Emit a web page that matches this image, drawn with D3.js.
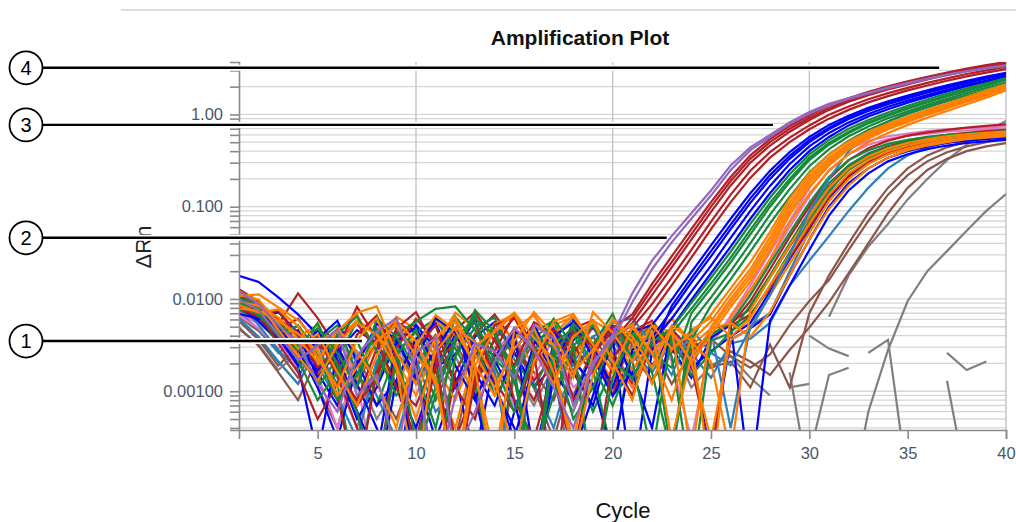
<!DOCTYPE html>
<meta charset="utf-8">
<style>
body { margin: 0; background: #fff; }
svg { font-family: "Liberation Sans", Arial, sans-serif; }
.grid line { stroke: #d6d6d6; stroke-width: 1.3; }
.vgrid line { stroke: #c4c4c4; stroke-width: 1.4; }
.axis path, .axis line { stroke: #8a8a8a; stroke-width: 1.6; }
.axis text { fill: #4a586b; font-size: 16.5px; font-family: "Liberation Sans", Arial, sans-serif; }
.well { fill: none; stroke-width: 2.2; }
</style>
<body>
<svg width="1016" height="522"></svg>
<script src="https://cdn.jsdelivr.net/npm/d3@7"></script>
<script>

// cycle numbers and axis ticks
var cycles = [1,2,3,4,5,6,7,8,9,10,11,12,13,14,15,16,17,18,19,20,21,22,23,24,25,26,27,28,29,30,31,32,33,34,35,36,37,38,39,40];
var xTicks = [5,10,15,20,25,30,35,40];
var xGrid = [10,20,30,40];
var yLabels = [0.001, 0.01, 0.1, 1];

// callouts on the left (number, ΔRn level, cycle where the line ends)
var calloutNumbers = ["1","2","3","4"];
var calloutLevels = [0.0035, 0.046, 0.77, 3.2];
var calloutEnds = [7.25, 22.75, 28.15, 36.6];

// ΔRn per well, cycles 1..40 (null = negative, not drawn on log axis)
var grayWells = [
  [.0058,.0036,.0021,.0012,.0029,.0041,.0016,.0005,.0011,.0034,.0062,.0024,.0009,.0018,.0044,.0027,.0013,.0006,.0021,.0038,.0015,.0026,.0033,.0011,.0019,.0024,.0014,.0009,null,null,null,.00005,.0006,.0028,.0095,.02,.033,.055,.09,.137],
  [.0047,.0032,.0017,.0026,.0041,.0014,.0004,.0021,.0036,.0054,.0023,.0011,.0028,.0045,.0016,.0007,.0019,.0039,.0051,.0026,.0013,.0034,.0022,.0017,.0029,null,null,null,null,null,.0064,.018,.037,.065,.12,.2,.32,.47,.65,.85],
  [null,null,null,null,null,.0034,.0021,.0043,.0026,.0012,null,null,null,null,null,null,.0038,.0062,.0029,null,null,null,null,null,null,null,null,null,.0016,.0001,null,null,.0026,.0036,.0001,null,.0026,.0017,.0021,null],
  [null,null,null,null,null,null,null,null,null,null,null,null,null,.0031,.0018,.0042,null,null,null,null,null,.0027,.0044,.0015,null,null,null,null,.0011,.0012,null,null,null,null,null,null,.0013,.0001,null,null],
  [null,null,null,null,null,null,null,.0021,.0034,.0012,.0027,null,null,null,null,null,null,null,null,null,null,null,null,null,null,null,null,null,null,.004,.0029,.0024,null,null,null,null,null,null,null,null],
  [null,null,null,null,null,null,null,null,null,null,null,null,null,null,null,null,null,.0024,.0049,.0031,.0017,null,null,null,null,null,null,null,null,.0002,.0015,.0018,null,null,null,null,null,null,null,null]
];
var brownWells = [
  [.0064,.0045,.0027,.0014,.0035,.0021,.0007,.0018,.0042,.0029,.0011,.0003,.0024,.0046,.0031,.0016,.0008,.0027,.0039,.0019,.0033,.0013,.0026,.0041,.0018,.0021,.0011,.0032,.0011,.007,.018,.04,.085,.16,.26,.36,.44,.51,.56,.6],
  [.0058,.0036,.0019,.0031,.0011,.0004,.0022,.0044,.0027,.0013,.0038,.0049,.0018,.0001,.0015,.0034,.0023,.0009,.0029,.0042,.0017,.0031,.0012,.0026,.0037,.0024,.0018,.0025,.0052,.0095,.016,.034,.07,.135,.22,.31,.39,.45,.5,.55],
  [.0049,.0031,.0016,.0008,.0023,.0039,.0027,.0012,.0005,.0019,.0041,.0033,.0014,.0021,.0036,.0011,.0003,.0017,.0032,.0046,.0025,.0013,.0029,.0038,.0018,.0027,.0021,.0015,.0028,.0049,.0092,.019,.04,.085,.16,.25,.33,.4,.45,.49]
];
var lowSteelWells = [
  [.0072,.0047,.0026,.0038,.0019,.0008,.0014,.0035,.0051,.0022,.0006,.0011,.0029,.0047,.0033,.0012,.0004,.0021,.0039,.0052,.0027,.0016,.0034,.0023,.0045,.0004,.0051,.007,.02,.055,.14,.28,.38,.45,.5,.54,.57,.6,.62,.64],
  [.0061,.0039,.0021,.0012,.0031,.0047,.0024,.0009,.0003,.0018,.0036,.0049,.0027,.0013,.0025,.0042,.0017,.0001,.0028,.0044,.0021,.0035,.0047,.0026,.0014,.0033,.0037,.0055,.014,.026,.048,.09,.16,.26,.36,.44,.5,.54,.57,.6]
];
var steelWells = [
  [.0091,.0052,.0028,.0017,.0034,.0009,.0003,.0021,.0046,.0027,.0011,.0038,.0055,.0016,.0001,.0024,.0042,.0019,.0031,.0055,.0062,.0033,.0015,.0047,.0026,.0019,.0048,.011,.03,.09,.2,.4,.62,.84,1.04,1.24,1.42,1.6,1.8,2.0]
];
var pinkWells = [
  [.0071,.0054,.0036,.0018,.0029,.0044,.0013,.0001,.0023,.0037,.0051,.0019,.0008,.0027,.0046,.0068,.0032,.0011,.0017,.0039,.0051,.0024,.0042,.0028,.0033,.0065,.014,.032,.07,.16,.29,.42,.52,.58,.62,.66,.69,.71,.72,.74],
  [.0066,.0048,.0029,.0041,.0015,.0004,.0022,.0038,.0054,.0026,.0012,.0031,.0047,.0018,.0007,.0014,.0039,.0056,.0024,.0011,.0036,.0049,.0021,.0003,.0033,.006,.012,.026,.06,.13,.25,.37,.47,.54,.59,.62,.65,.67,.69,.7]
];
var lowBlueWells = [
  [.0078,.0061,.0038,.0019,.0002,.0027,.0046,.0033,.0012,.0004,.0017,.0041,.0055,.0022,.0008,.0001,.0014,.0036,.0049,.0025,.0011,.0031,.0043,.0018,.0027,.0039,.0055,.012,.027,.058,.125,.21,.3,.37,.43,.48,.51,.54,.56,.58],
  [.0089,.0066,.0041,.0027,.0046,.0018,.0005,.0011,.0034,.0052,.0029,.0014,.0002,.0021,.0044,.0037,.0016,.0008,.0027,.0051,.0033,.0019,.0041,.0024,.0002,.0036,.0048,.0068,.018,.044,.1,.18,.26,.34,.4,.45,.49,.52,.54,.56],
  [.0097,.0074,.0049,.0031,.0016,.0007,.0023,.0048,.0036,.0015,.0003,.0012,.0039,.0056,.0026,.0011,.0019,.0045,.0032,.0009,.0024,.0047,.0029,.0014,.0038,.0052,.0001,.0058,.014,.034,.08,.15,.23,.31,.37,.42,.46,.49,.51,.53]
];
var blueWells = [
  [.0178,.0153,.0104,.0068,.0041,.0022,.0006,.0001,.0013,.0037,.0054,.0019,.0008,.0024,.0043,.0002,.0015,.0058,.0031,.0011,.0044,.0052,.0098,.0195,.038,.074,.14,.245,.39,.57,.77,.97,1.18,1.39,1.6,1.83,2.07,2.32,2.57,2.82],
  [.0094,.0068,.0049,.0029,.0011,.0003,.0019,.0054,.0036,.0014,.0027,.0061,.0009,.0001,.0006,.0033,.0048,.0021,.0012,.0002,.0028,.0038,.0075,.015,.029,.057,.11,.2,.33,.5,.69,.89,1.09,1.29,1.5,1.72,1.95,2.2,2.45,2.72],
  [.0083,.0057,.0036,.0046,.0017,.0031,.0012,.0004,.0001,.0022,.0062,.0043,.0016,.0007,.0028,.0053,.0019,.0002,.0009,.0045,.0014,.0034,.0061,.012,.023,.046,.09,.168,.29,.45,.63,.82,1.01,1.21,1.41,1.62,1.85,2.09,2.33,2.6],
  [.0101,.0082,.0044,.0019,.0037,.0058,.0021,.0007,.0013,.0002,.0026,.0048,.0033,.0011,.0004,.0001,.0039,.0056,.0023,.0009,.0016,.0004,.0049,.0098,.019,.037,.074,.14,.25,.4,.57,.76,.95,1.14,1.34,1.55,1.78,2.02,2.27,2.52],
  [.0069,.0061,.0072,.0042,.0014,.0027,.0006,.0002,.0034,.0049,.0018,.0025,.0061,.0012,.0003,.0021,.0045,.0016,.0007,.0038,.0001,.0027,.0084,.0168,.033,.064,.123,.22,.355,.53,.72,.92,1.13,1.34,1.55,1.77,2.0,2.25,2.5,2.76]
];
var lowRedWells = [
  [.0093,.0077,.0053,.0115,.0062,.0029,.0011,.0038,.0057,.0021,.0001,.0016,.0042,.0068,.0034,.0013,.0024,.0049,.0027,.0009,.0045,.0058,.0031,.0019,.0048,.0052,.0095,.021,.047,.1,.2,.32,.43,.52,.59,.64,.68,.72,.75,.78],
  [.0081,.0069,.0046,.0024,.0039,.0017,.0008,.0029,.0056,.0043,.0019,.0001,.0013,.0037,.0062,.0031,.0014,.0026,.0051,.0022,.0009,.0034,.0047,.0028,.0041,.0055,.0078,.017,.037,.078,.165,.27,.37,.45,.51,.56,.6,.63,.66,.68],
  [.0104,.0063,.0039,.0022,.0015,.0037,.0054,.0028,.0011,.0003,.0021,.0046,.0072,.0035,.0017,.0008,.0026,.0048,.0059,.0024,.0012,.0031,.0044,.0019,.0002,.0051,.0068,.013,.028,.06,.13,.22,.31,.39,.45,.5,.54,.57,.6,.62]
];
var redWells = [
  [.0105,.0091,.0058,.0027,.0039,.0015,.0004,.0001,.0029,.0061,.0034,.0012,.0024,.0046,.0008,.0003,.0018,.0044,.0031,.0049,.0068,.0145,.029,.057,.112,.21,.36,.54,.75,.98,1.24,1.5,1.76,2.02,2.28,2.56,2.85,3.14,3.42,3.7],
  [.0087,.0072,.0061,.0043,.0018,.0029,.0082,.0037,.0011,.0007,.0023,.0001,.0014,.0052,.0063,.0026,.0001,.0032,.0015,.0034,.0055,.011,.022,.044,.088,.17,.3,.46,.65,.87,1.12,1.37,1.62,1.87,2.12,2.4,2.68,2.97,3.25,3.55],
  [.0112,.0069,.0033,.0016,.0005,.0012,.0041,.0066,.0024,.0002,.0019,.0035,.0057,.0013,.0006,.0021,.0047,.0028,.0001,.0022,.0049,.0088,.017,.034,.069,.135,.245,.39,.56,.76,.99,1.22,1.46,1.7,1.94,2.2,2.46,2.74,3.0,3.28],
  [.0079,.0064,.0075,.0038,.0024,.0009,.0001,.0016,.0043,.0029,.0052,.0011,.0005,.0027,.0068,.0031,.0014,.0002,.0025,.0046,.0033,.0071,.014,.028,.057,.112,.205,.34,.5,.69,.9,1.12,1.35,1.58,1.82,2.06,2.32,2.58,2.84,3.1],
  [.0128,.0094,.0047,.0061,.0032,.0021,.0007,.0014,.0048,.0072,.0029,.0003,.0011,.0038,.0019,.0056,.0041,.0008,.0017,.0035,.0062,.0128,.025,.05,.1,.19,.33,.5,.7,.92,1.17,1.43,1.68,1.94,2.2,2.47,2.75,3.04,3.32,3.6]
];
var lowGreenWells = [
  [.0085,.0064,.0042,.0021,.0035,.0052,.0016,.0007,.0026,.0044,.0061,.0029,.0012,.0001,.0019,.0038,.0055,.0023,.0011,.0031,.0047,.0018,.0036,.0026,.0041,.0055,.011,.024,.052,.11,.21,.32,.41,.48,.53,.57,.6,.62,.64,.66],
  [.0099,.0072,.0048,.0031,.0011,.0023,.0057,.0041,.0016,.0002,.0009,.0034,.0066,.0027,.0013,.0044,.0058,.0021,.0006,.0018,.0039,.0052,.0024,.0001,.0035,.0043,.0085,.018,.04,.088,.18,.28,.37,.44,.5,.54,.57,.6,.62,.63],
  [.0076,.0058,.0034,.0052,.0027,.0012,.0001,.0019,.0043,.0031,.0008,.0024,.0049,.0063,.0022,.0011,.0028,.0041,.0017,.0002,.0032,.0054,.0037,.0015,.0026,.0044,.0065,.014,.032,.07,.15,.25,.34,.41,.47,.51,.55,.57,.59,.61]
];
var greenWells = [
  [.0115,.0081,.0057,.0033,.0048,.0026,.0011,.0062,.0039,.0018,.0001,.0024,.0076,.0044,.0013,.0002,.0009,.0031,.0052,.0021,.0014,.0034,.0048,.0091,.017,.0325,.065,.125,.225,.37,.53,.7,.87,1.05,1.24,1.45,1.68,1.92,2.18,2.48],
  [.0092,.0067,.0045,.0022,.0008,.0016,.0035,.0012,.0041,.0057,.0078,.0083,.0046,.0019,.0006,.0027,.0061,.0031,.0001,.0014,.0042,.0025,.0018,.007,.013,.025,.05,.1,.185,.32,.47,.63,.8,.97,1.15,1.35,1.57,1.8,2.05,2.35],
  [.0088,.0071,.0039,.0028,.0055,.0019,.0006,.0001,.0024,.0047,.0013,.0064,.0035,.0009,.0018,.0042,.0029,.0005,.0011,.0037,.0053,.0016,.0002,.0056,.0104,.02,.04,.082,.155,.275,.42,.58,.74,.91,1.08,1.27,1.48,1.7,1.94,2.22],
  [.0103,.0077,.0052,.0031,.0012,.0041,.0065,.0027,.0009,.0017,.0004,.0038,.0056,.0022,.0014,.0001,.0033,.0048,.0019,.0007,.0024,.0045,.0002,.0036,.0085,.0163,.0325,.066,.128,.235,.37,.52,.68,.84,1.01,1.19,1.39,1.6,1.83,2.1],
  [.0097,.0066,.0043,.0051,.0024,.0008,.0015,.0047,.0029,.0003,.0011,.0036,.0062,.0041,.0017,.0001,.0023,.0054,.0032,.0069,.0021,.0002,.0042,.0078,.0146,.028,.056,.11,.2,.34,.49,.65,.82,.99,1.18,1.38,1.6,1.84,2.1,2.4]
];
var lowOrangeWells = [
  [.0118,.0085,.0058,.0039,.0052,.0021,.0013,.0033,.0064,.0047,.0018,.0008,.0027,.0053,.0069,.0031,.0015,.0039,.0058,.0024,.0011,.0042,.0061,.0034,.0021,.0002,.0075,.017,.038,.08,.16,.26,.35,.43,.49,.54,.58,.61,.63,.65],
  [.0091,.0077,.0051,.0026,.0014,.0036,.0059,.0042,.0021,.0009,.0031,.0071,.0048,.0017,.0001,.0024,.0052,.0064,.0029,.0013,.0037,.0055,.0028,.0046,.0063,.0039,.0062,.014,.03,.065,.135,.23,.32,.4,.46,.51,.55,.58,.6,.62],
  [.0087,.0068,.0075,.0043,.0028,.0011,.0022,.0047,.0058,.0031,.0014,.0004,.0026,.0054,.0038,.0019,.0042,.0067,.0033,.0016,.0029,.0051,.0044,.0021,.0003,.0036,.0048,.011,.024,.052,.115,.2,.29,.37,.43,.48,.52,.55,.58,.6],
  [.0106,.0092,.0061,.0033,.0019,.0045,.0068,.0027,.0012,.0035,.0057,.0041,.0016,.0002,.0029,.0051,.0038,.0022,.0058,.0044,.0017,.0036,.0062,.0031,.0048,.0055,.0039,.0072,.018,.044,.095,.17,.26,.34,.41,.46,.5,.54,.56,.58]
];
var orangeWells = [
  [.0108,.0112,.0081,.0059,.0034,.0045,.0071,.0083,.0026,.0012,.0039,.0057,.0018,.0001,.0048,.0066,.0031,.0014,.0072,.0043,.0021,.0052,.0029,.0042,.0068,.013,.025,.053,.122,.23,.37,.51,.65,.79,.95,1.12,1.31,1.54,1.8,2.12],
  [.0095,.0084,.0063,.0037,.0021,.0048,.0027,.0013,.0004,.0031,.0067,.0046,.0019,.0009,.0035,.0072,.0041,.0016,.0028,.0059,.0034,.0012,.0048,.0002,.005,.01,.019,.042,.1,.195,.32,.46,.6,.74,.89,1.05,1.23,1.45,1.7,2.0],
  [.0113,.0098,.0054,.0029,.0042,.0016,.0007,.0024,.0058,.0035,.0012,.0001,.0019,.0046,.0071,.0038,.0022,.0002,.0015,.0039,.0053,.0026,.0044,.0021,.0041,.0082,.0155,.034,.082,.165,.28,.42,.55,.69,.83,.99,1.16,1.37,1.61,1.9],
  [.0086,.0071,.0077,.0051,.0023,.0011,.0036,.0062,.0019,.0005,.0027,.0049,.0034,.0014,.0002,.0021,.0057,.0069,.0032,.0017,.0049,.0026,.0008,.0038,.0001,.0066,.0125,.027,.067,.138,.245,.37,.5,.63,.77,.92,1.09,1.29,1.52,1.82],
  [.0122,.0089,.0046,.0024,.0013,.0032,.0055,.0041,.0018,.0001,.0037,.0063,.0025,.0011,.0029,.0048,.0016,.0003,.0026,.0061,.0039,.0018,.0052,.0035,.0057,.0113,.021,.047,.11,.212,.34,.48,.62,.76,.91,1.08,1.27,1.49,1.75,2.06],
  [.0079,.0074,.0058,.0042,.0027,.0009,.0018,.0035,.0052,.0024,.0014,.0001,.0031,.0044,.0068,.0028,.0012,.0039,.0057,.0021,.0008,.0046,.0003,.0024,.0046,.0091,.0172,.038,.09,.18,.3,.44,.58,.72,.86,1.02,1.2,1.42,1.66,1.96]
];
var purpleWells = [
  [.0098,.0076,.0041,.0022,.0031,.0047,.0009,.0015,.0002,.0026,.0038,.0002,.0006,.0021,.0049,.0028,.0011,.0004,.0019,.0041,.0115,.026,.048,.085,.15,.28,.44,.6,.82,1.06,1.3,1.5,1.72,1.95,2.2,2.45,2.7,2.95,3.2,3.4],
  [.0121,.0088,.0052,.0034,.0012,.0006,.0024,.0044,.0062,.0017,.0001,.0009,.0033,.0027,.0014,.0052,.0038,.0007,.0021,.0036,.0092,.021,.041,.074,.132,.25,.41,.57,.79,1.02,1.26,1.47,1.69,1.92,2.16,2.42,2.66,2.92,3.15,3.36]
];

// drawing order and colours
var layers = [
  { wells: grayWells, color: "#808080" },
  { wells: brownWells, color: "#8c564b" },
  { wells: lowSteelWells, color: "#2e7fb8" },
  { wells: pinkWells, color: "#e377c2" },
  { wells: lowBlueWells, color: "#0000ff" },
  { wells: lowRedWells, color: "#b21f27" },
  { wells: lowGreenWells, color: "#17893b" },
  { wells: lowOrangeWells, color: "#ff8000" },
  { wells: steelWells, color: "#2e7fb8" },
  { wells: blueWells, color: "#0000ff" },
  { wells: redWells, color: "#b21f27" },
  { wells: greenWells, color: "#17893b" },
  { wells: orangeWells, color: "#ff8000" },
  { wells: purpleWells, color: "#9467bd" }
];

var svg = d3.select("svg");
var plotLeft = 239, plotRight = 1006, plotTop = 62, plotBottom = 430;

var x = d3.scaleLinear().domain([1, 40]).range([plotLeft, plotRight]);
var y = d3.scaleLog().domain([0.00038, 3.7]).range([plotBottom, plotTop]);
var fmt = d3.format(".3r");

// top rule
svg.append("line")
    .attr("x1", 121).attr("x2", 1016).attr("y1", 10).attr("y2", 10)
    .style("stroke", "#d2d2d2").style("stroke-width", 1.5);

svg.append("text")
    .attr("x", 580).attr("y", 45)
    .attr("text-anchor", "middle")
    .style("font-size", "21px").style("font-weight", "bold").style("fill", "#111")
    .text("Amplification Plot");

// horizontal grid at every log tick
svg.append("g").attr("class", "grid")
  .selectAll("line")
  .data(y.ticks())
  .enter().append("line")
    .attr("x1", plotLeft).attr("x2", plotRight)
    .attr("y1", function(d) { return y(d); })
    .attr("y2", function(d) { return y(d); });

svg.append("g").attr("class", "vgrid")
  .selectAll("line")
  .data(xGrid)
  .enter().append("line")
    .attr("x1", function(d) { return x(d); })
    .attr("x2", function(d) { return x(d); })
    .attr("y1", plotTop).attr("y2", plotBottom);

svg.append("clipPath").attr("id", "plot-clip")
  .append("rect")
    .attr("x", plotLeft).attr("y", plotTop)
    .attr("width", plotRight - plotLeft).attr("height", plotBottom - plotTop);

var line = d3.line()
    .defined(function(d) { return d != null && d > 0; })
    .x(function(d, i) { return x(cycles[i]); })
    .y(function(d) { return y(d); });

var plot = svg.append("g").attr("clip-path", "url(#plot-clip)");

layers.forEach(function(layer) {
  plot.append("g")
    .selectAll("path")
    .data(layer.wells)
    .enter().append("path")
      .attr("class", "well")
      .attr("stroke", layer.color)
      .attr("d", line);
});

// axes
var isLabel = function(d) {
  return yLabels.some(function(v) { return Math.abs(Math.log10(v) - Math.log10(d)) < 1e-6; });
};

svg.append("g").attr("class", "axis")
    .attr("transform", "translate(" + plotLeft + ",0)")
    .call(d3.axisLeft(y)
      .tickValues(y.ticks())
      .tickSize(9).tickPadding(7)
      .tickFormat(function(d) { return isLabel(d) ? fmt(d) : ""; }));

svg.append("g").attr("class", "axis")
    .attr("transform", "translate(0," + plotBottom + ")")
    .call(d3.axisBottom(x)
      .tickValues(xTicks)
      .tickSize(9).tickPadding(8)
      .tickFormat(d3.format("d")));

svg.append("text")
    .attr("transform", "translate(151,247) rotate(-90)")
    .attr("text-anchor", "middle")
    .style("font-size", "22px").style("fill", "#222")
    .text("ΔRn");

svg.append("text")
    .attr("x", 623).attr("y", 518)
    .attr("text-anchor", "middle")
    .style("font-size", "22px").style("fill", "#111")
    .text("Cycle");

// numbered callouts
var callouts = svg.append("g")
  .selectAll("g")
  .data(calloutNumbers)
  .enter().append("g")
    .attr("transform", function(d, i) { return "translate(0," + y(calloutLevels[i]) + ")"; });

callouts.append("line")
    .attr("x1", 43).attr("x2", function(d, i) { return x(calloutEnds[i]); })
    .style("stroke", "#fff").style("stroke-width", 6);
callouts.append("line")
    .attr("x1", 43).attr("x2", function(d, i) { return x(calloutEnds[i]); })
    .style("stroke", "#000").style("stroke-width", 2.4);
callouts.append("circle")
    .attr("cx", 26).attr("r", 16.5)
    .style("fill", "#fff").style("stroke", "#000").style("stroke-width", 1.8);
callouts.append("text")
    .attr("x", 26).attr("dy", "0.36em")
    .attr("text-anchor", "middle")
    .style("font-size", "20px").style("fill", "#000")
    .text(function(d) { return d; });

</script>
</body>
